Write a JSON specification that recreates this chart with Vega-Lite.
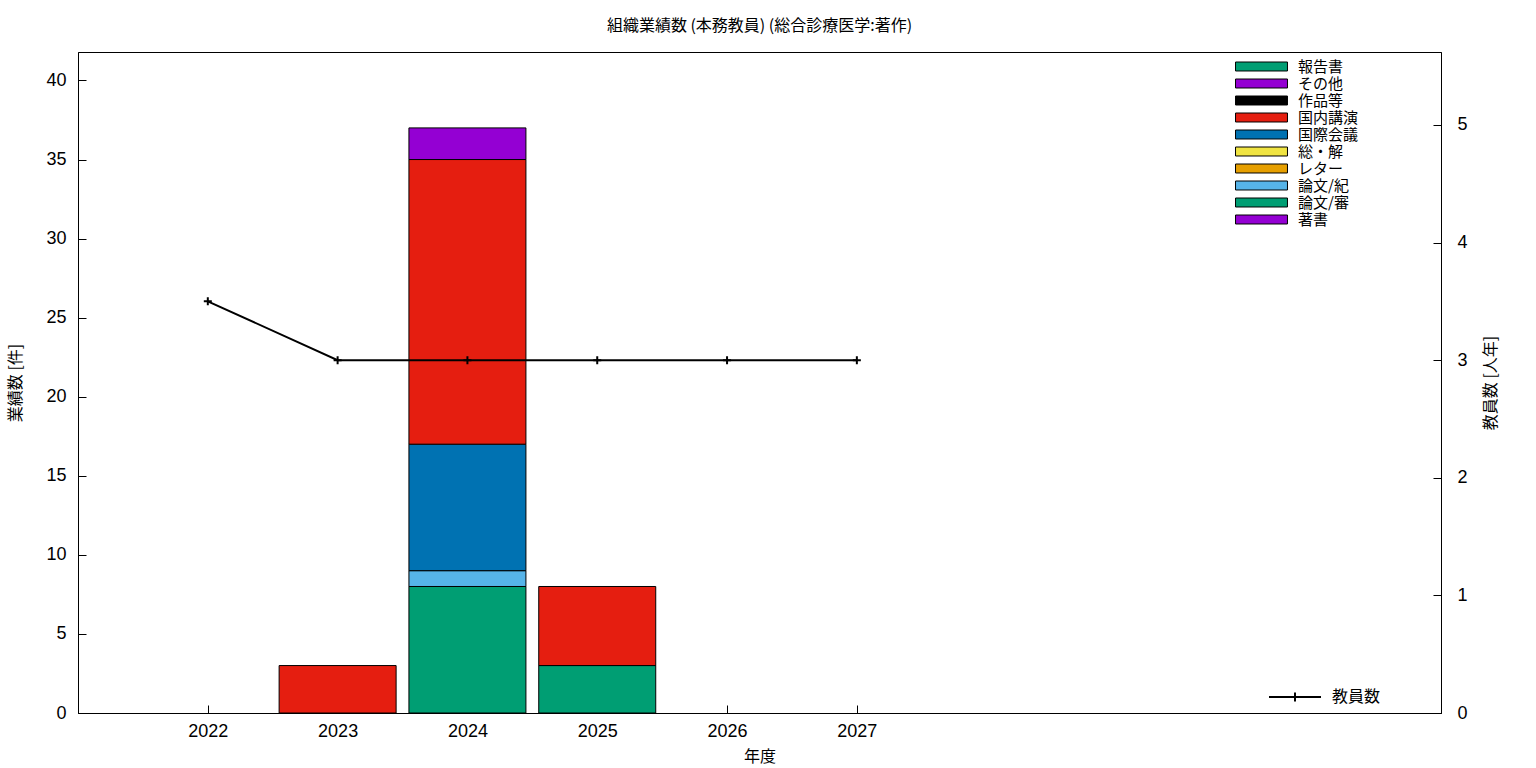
{
  "$schema": "https://vega.github.io/schema/vega-lite/v6.json",
  "autosize": {"type": "none"},
  "padding": {"left": 78, "top": 52, "right": 95, "bottom": 55},
  "width": 1363,
  "height": 661,
  "background": "white",
  "title": {
    "text": "組織業績数 (本務教員) (総合診療医学:著作)",
    "font": "Noto Sans CJK JP",
    "fontSize": 16,
    "fontWeight": "normal",
    "color": "black",
    "anchor": "middle",
    "offset": 18
  },
  "config": {
    "view": {"stroke": "black", "strokeWidth": 1},
    "axis": {
      "grid": false,
      "domainColor": "black",
      "tickColor": "black",
      "labelColor": "black",
      "titleColor": "black",
      "labelFont": "Liberation Sans",
      "labelFontSize": 18,
      "titleFont": "Noto Sans CJK JP",
      "titleFontSize": 16,
      "titleFontWeight": "normal",
      "tickSize": -8
    },
    "legend": {
      "labelFont": "Noto Sans CJK JP",
      "labelFontSize": 15,
      "labelColor": "black"
    }
  },
  "datasets": {
    "bars": [
      {"year": 2023, "type": "国内講演", "n": 3, "k": 7},
      {"year": 2024, "type": "論文/審", "n": 8, "k": 2},
      {"year": 2024, "type": "論文/紀", "n": 1, "k": 3},
      {"year": 2024, "type": "国際会議", "n": 8, "k": 6},
      {"year": 2024, "type": "国内講演", "n": 18, "k": 7},
      {"year": 2024, "type": "その他", "n": 2, "k": 9},
      {"year": 2025, "type": "論文/審", "n": 3, "k": 2},
      {"year": 2025, "type": "国内講演", "n": 5, "k": 7}
    ],
    "staff": [
      {"year": 2022, "v": 3.5, "s": "教員数"},
      {"year": 2023, "v": 3, "s": "教員数"},
      {"year": 2024, "v": 3, "s": "教員数"},
      {"year": 2025, "v": 3, "s": "教員数"},
      {"year": 2026, "v": 3, "s": "教員数"},
      {"year": 2027, "v": 3, "s": "教員数"}
    ]
  },
  "layer": [
    {
      "data": {"name": "bars"},
      "mark": {"type": "bar", "width": 117, "stroke": "black", "strokeWidth": 1, "opacity": 1},
      "encoding": {
        "x": {
          "field": "year", "type": "quantitative",
          "scale": {"domain": [2021, 2031.5], "nice": false, "zero": false, "padding": 0},
          "axis": {
            "title": "年度",
            "values": [2022, 2023, 2024, 2025, 2026, 2027],
            "format": "d",
            "labelPadding": 17,
            "titlePadding": 8
          }
        },
        "y": {
          "field": "n", "type": "quantitative", "stack": "zero",
          "scale": {"domain": [0, 41.8], "nice": false},
          "axis": {
            "title": "業績数 [件]",
            "values": [0, 5, 10, 15, 20, 25, 30, 35, 40],
            "labelPadding": 20,
            "titlePadding": 22
          }
        },
        "fill": {
          "field": "type", "type": "nominal",
          "scale": {
            "domain": ["報告書", "その他", "作品等", "国内講演", "国際会議", "総・解", "レター", "論文/紀", "論文/審", "著書"],
            "range": ["#009e73", "#9400d3", "#000000", "#e51e10", "#0072b2", "#f0e442", "#e69f00", "#56b4e9", "#009e73", "#9400d3"]
          },
          "legend": {
            "title": null,
            "orient": "none",
            "legendX": 1176,
            "legendY": 7,
            "symbolType": "M-5,-0.865H5V0.865H-5Z",
            "symbolSize": 108,
            "symbolStrokeColor": "black",
            "symbolStrokeWidth": 1,
            "symbolOpacity": 1,
            "labelOffset": 29,
            "rowPadding": 1
          }
        },
        "order": {"field": "k", "type": "quantitative"}
      }
    },
    {
      "data": {"name": "staff"},
      "encoding": {
        "x": {"field": "year", "type": "quantitative"},
        "y": {
          "field": "v", "type": "quantitative",
          "scale": {"domain": [0, 5.62], "nice": false},
          "axis": {
            "orient": "right",
            "title": "教員数 [人年]",
            "titleAngle": 270,
            "values": [0, 1, 2, 3, 4, 5],
            "labelPadding": 24,
            "titlePadding": 31
          }
        }
      },
      "layer": [
        {
          "mark": {"type": "line", "color": "black", "strokeWidth": 2},
          "encoding": {
            "stroke": {
              "field": "s", "type": "nominal",
              "scale": {"domain": ["教員数"], "range": ["black"]},
              "legend": {
                "title": null,
                "orient": "none",
                "legendX": 1190,
                "legendY": 618,
                "symbolType": "M-1,0H1M0,-0.17V0.17",
                "symbolSize": 2704,
                "symbolStrokeWidth": 2,
                "symbolStrokeColor": "black",
                "labelOffset": 10,
                "labelFontSize": 16
              }
            }
          }
        },
        {
          "mark": {"type": "point", "shape": "M-1,0H1M0,-1V1", "filled": false, "stroke": "black", "strokeWidth": 2, "size": 64, "opacity": 1},
          "encoding": {}
        }
      ]
    }
  ],
  "resolve": {"scale": {"y": "independent"}}
}
